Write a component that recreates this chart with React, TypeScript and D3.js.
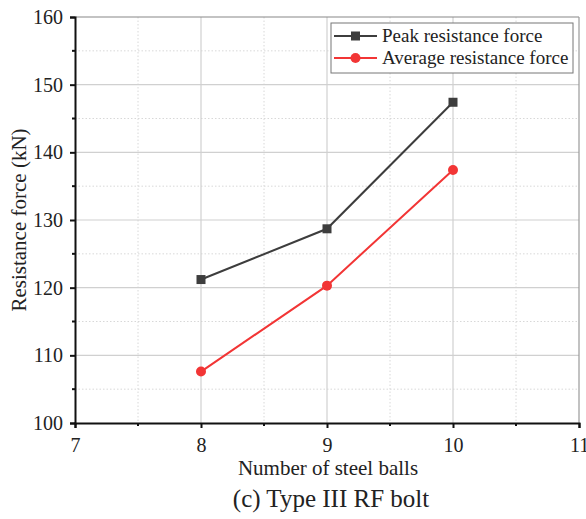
import React, { useEffect, useRef } from 'react';
import * as d3 from 'd3';

const steelBalls = [8, 9, 10];
const peakForce = [121.2, 128.7, 147.4];
const averageForce = [107.6, 120.3, 137.4];
const xTicks = [7, 8, 9, 10, 11];
const yTicks = [100, 110, 120, 130, 140, 150, 160];
const seriesNames = ['Peak resistance force', 'Average resistance force'];

const App = () => {
  const svgRef = useRef<SVGSVGElement | null>(null);

  useEffect(() => {
    const svg = d3.select(svgRef.current);
    svg.selectAll('*').remove();

    const width = 586;
    const height = 519;
    const margin = { top: 17, right: 7, bottom: 96, left: 75 };
    const innerW = width - margin.left - margin.right;
    const innerH = height - margin.top - margin.bottom;
    const font = '"Liberation Serif", "Times New Roman", serif';

    svg.attr('width', width).attr('height', height);
    svg.append('rect').attr('width', width).attr('height', height).attr('fill', '#fff');

    const g = svg.append('g').attr('transform', `translate(${margin.left},${margin.top})`);

    const x = d3.scaleLinear().domain([7, 11]).range([0, innerW]);
    const y = d3.scaleLinear().domain([100, 160]).range([innerH, 0]);

    // minor grid (dotted)
    const xMinor = d3.range(7.5, 11, 1);
    const yMinor = d3.range(105, 160, 10);
    g.selectAll('.gxm').data(xMinor).enter().append('line')
      .attr('x1', d => x(d)).attr('x2', d => x(d)).attr('y1', 0).attr('y2', innerH)
      .attr('stroke', '#d8d8d8').attr('stroke-width', 1).attr('stroke-dasharray', '1.5,2');
    g.selectAll('.gym').data(yMinor).enter().append('line')
      .attr('x1', 0).attr('x2', innerW).attr('y1', d => y(d)).attr('y2', d => y(d))
      .attr('stroke', '#d8d8d8').attr('stroke-width', 1).attr('stroke-dasharray', '1.5,2');

    // major grid
    g.selectAll('.gx').data(xTicks.slice(1, -1)).enter().append('line')
      .attr('x1', d => x(d)).attr('x2', d => x(d)).attr('y1', 0).attr('y2', innerH)
      .attr('stroke', '#d0d0d0').attr('stroke-width', 1.2);
    g.selectAll('.gy').data(yTicks.slice(1, -1)).enter().append('line')
      .attr('x1', 0).attr('x2', innerW).attr('y1', d => y(d)).attr('y2', d => y(d))
      .attr('stroke', '#d0d0d0').attr('stroke-width', 1.2);

    // top and right frame
    g.append('line').attr('x1', 0).attr('x2', innerW).attr('y1', 0).attr('y2', 0)
      .attr('stroke', '#888').attr('stroke-width', 1.2);
    g.append('line').attr('x1', innerW).attr('x2', innerW).attr('y1', 0).attr('y2', innerH)
      .attr('stroke', '#999').attr('stroke-width', 1.2);

    // axes
    const xAxis = g.append('g').attr('transform', `translate(0,${innerH})`)
      .call(d3.axisBottom(x).tickValues(xTicks).tickFormat(d3.format('d')).tickSize(5).tickPadding(10));
    const yAxis = g.append('g')
      .call(d3.axisLeft(y).tickValues(yTicks).tickFormat(d3.format('d')).tickSize(5).tickPadding(7));
    [xAxis, yAxis].forEach(a => {
      a.select('.domain').attr('stroke', '#111').attr('stroke-width', 2);
      a.selectAll('.tick line').attr('stroke', '#111').attr('stroke-width', 2);
      a.selectAll('text').style('font-family', font).style('font-size', '20px').attr('fill', '#222');
    });
    g.selectAll('.mx').data(xMinor).enter().append('line')
      .attr('x1', d => x(d)).attr('x2', d => x(d)).attr('y1', innerH).attr('y2', innerH + 3)
      .attr('stroke', '#111').attr('stroke-width', 2);
    g.selectAll('.my').data(yMinor).enter().append('line')
      .attr('x1', -3).attr('x2', 0).attr('y1', d => y(d)).attr('y2', d => y(d))
      .attr('stroke', '#111').attr('stroke-width', 2);

    // series
    const colors = ['#3d3d3d', '#f23535'];
    const series = [peakForce, averageForce];
    const line = d3.line<number>().x((_, i) => x(steelBalls[i])).y(d => y(d));
    series.forEach((vals, si) => {
      g.append('path').datum(vals).attr('d', line).attr('fill', 'none')
        .attr('stroke', colors[si]).attr('stroke-width', 2);
      if (si === 0) {
        g.selectAll('.sq').data(vals).enter().append('rect')
          .attr('x', (_, i) => x(steelBalls[i]) - 4.5).attr('y', d => y(d) - 4.5)
          .attr('width', 9).attr('height', 9).attr('fill', colors[si]);
      } else {
        g.selectAll('.ci').data(vals).enter().append('circle')
          .attr('cx', (_, i) => x(steelBalls[i])).attr('cy', d => y(d))
          .attr('r', 5).attr('fill', colors[si]);
      }
    });

    // legend
    const lg = svg.append('g').attr('transform', 'translate(331,23)');
    lg.append('rect').attr('width', 242).attr('height', 50).attr('fill', '#fff')
      .attr('stroke', '#777').attr('stroke-width', 1);
    seriesNames.forEach((name, i) => {
      const cy = 13 + i * 22;
      lg.append('line').attr('x1', 3).attr('x2', 46).attr('y1', cy).attr('y2', cy)
        .attr('stroke', colors[i]).attr('stroke-width', 2);
      if (i === 0) {
        lg.append('rect').attr('x', 20).attr('y', cy - 4.5).attr('width', 9).attr('height', 9).attr('fill', colors[i]);
      } else {
        lg.append('circle').attr('cx', 24.5).attr('cy', cy).attr('r', 5).attr('fill', colors[i]);
      }
      lg.append('text').attr('x', 51).attr('y', cy + 6).text(name)
        .style('font-family', font).style('font-size', '19px').attr('fill', '#222');
    });

    // titles
    svg.append('text').attr('x', 328).attr('y', 475)
      .attr('text-anchor', 'middle').text('Number of steel balls')
      .style('font-family', font).style('font-size', '21px').attr('fill', '#222');
    svg.append('text').attr('transform', `translate(26,220) rotate(-90)`)
      .attr('text-anchor', 'middle').text('Resistance force (kN)')
      .style('font-family', font).style('font-size', '21px').attr('fill', '#222');
    svg.append('text').attr('x', 331).attr('y', 507)
      .attr('text-anchor', 'middle').text('(c) Type III RF bolt')
      .style('font-family', font).style('font-size', '25px').attr('fill', '#222');
  }, []);

  return (
    <div style={{ position: 'absolute', left: 0, top: 0, width: 586, height: 519 }}>
      <svg ref={svgRef} style={{ display: 'block' }}></svg>
    </div>
  );
};

export default App;
